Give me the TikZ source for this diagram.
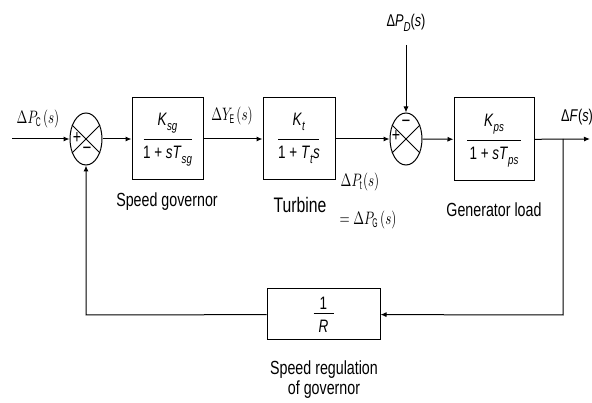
\documentclass[tikz,border=0pt]{standalone}
\usepackage{fontspec}
\setmainfont[FakeStretch=0.75]{Liberation Sans}
\usetikzlibrary{shapes.geometric,arrows.meta}
\newcommand{\iv}[1]{\textit{#1}}
\newcommand{\sbs}[1]{\raisebox{-0.5ex}{\fontsize{13}{13}\selectfont\textit{#1}}}
\newcommand{\mlab}[1]{\scalebox{1.3}[1.8]{\normalsize$#1$}}
\begin{document}
\begin{tikzpicture}[x=1pt,y=-1pt,
  every node/.style={font=\fontsize{19}{20}\selectfont, inner sep=0pt},
  blk/.style={draw, line width=1pt, minimum width=#1},
  sumj/.style={draw, ellipse, line width=1pt, minimum width=32pt, minimum height=52pt},
  ln/.style={line width=1pt},
  bar/.style={line width=1pt},
  num/.style={anchor=base, font=\fontsize{18}{18}\selectfont},
  arr/.style={ln, -{Latex[length=6pt,width=5pt]}}]
\useasboundingbox (0,0) rectangle (592,403);
% blocks
\node[blk=71pt, minimum height=82pt] (g) at (167.5,139) {};
\node[blk=72pt, minimum height=82pt] (t) at (299,139) {};
\node[blk=80pt, minimum height=83pt] (p) at (494,139.5) {};
\node[blk=113pt, minimum height=51pt] (r) at (323.5,314.5) {};
% fractions
\draw[bar] ([xshift=-24pt,yshift=-1pt]g.center) -- ([xshift=24pt,yshift=-1pt]g.center);
\node[num] (gn) at ([yshift=13pt]g.center) {\iv{K}\sbs{sg}};
\node[num] (gd) at ([yshift=-20pt]g.center) {1 + \iv{sT}\sbs{sg}};
\draw[bar] ([xshift=-21pt,yshift=-1pt]t.center) -- ([xshift=20pt,yshift=-1pt]t.center);
\node[num] (tn) at ([yshift=13pt]t.center) {\iv{K}\sbs{t}};
\node[num] (td) at ([yshift=-20pt]t.center) {1 + \iv{T}\sbs{t}\iv{s}};
\draw[bar] ([xshift=-27pt,yshift=-1pt]p.center) -- ([xshift=27pt,yshift=-1pt]p.center);
\node[num] (pn) at ([yshift=13pt]p.center) {\iv{K}\sbs{ps}};
\node[num] (pd) at ([yshift=-20pt]p.center) {1 + \iv{sT}\sbs{ps}};
\draw[bar] ([xshift=-10pt,yshift=0.5pt]r.center) -- ([xshift=10pt,yshift=0.5pt]r.center);
\node[num] (rn) at ([yshift=5pt]r.center) {1};
\node[num] (rd) at ([yshift=-18pt]r.center) {\iv{R}};
% summing junctions
\node[sumj] (s1) at (86,139) {};
\node[sumj] (s2) at (406,139) {};
\foreach \s in {s1,s2}{
  \draw[ln] (\s.45) -- (\s.225);
  \draw[ln] (\s.135) -- (\s.315);
}
\node (s1p) at ([xshift=-9pt,yshift=1pt]s1.center) {+};
\node (s1m) at ([xshift=1pt,yshift=-12pt]s1.center) {\fontsize{20}{20}\selectfont −};
\node (s2p) at ([xshift=-10pt,yshift=3pt]s2.center) {+};
\node (s2m) at ([yshift=15pt]s2.center) {\fontsize{20}{20}\selectfont −};
% coordinates
\coordinate (in) at (12,139);
\coordinate (dp) at (406,45);
\coordinate (out) at (590,139);
\coordinate (br) at (563,139);
\coordinate (brd) at (563,315);
\coordinate (fbl) at (86,315);
% connectors
\draw[arr] (in) -- (s1);
\draw[arr] (s1) -- (g);
\draw[arr] (g) -- (t);
\draw[arr] (t) -- (s2);
\draw[arr] (s2) -- (p);
\draw[arr] (p) -- (out);
\draw[arr] (dp) -- (s2);
\draw[arr] (br) -- (brd) -- (r);
\draw[arr] (r) -- (fbl) -- (s1);
% labels
\node (lpc) at (38,119) {\mlab{\Delta P_{\mathrm C}(s)}};
\node (lye) at (232,116) {\mlab{\Delta Y_{\mathrm E}(s)}};
\node (lpd) at (406,23) {\fontsize{17}{17}\selectfont Δ\iv{P}\sbs{D}(\iv{s})};
\node (lf) at (577,117) {\fontsize{17}{17}\selectfont Δ\iv{F}(\iv{s})};
\node (lpt) at (360,182) {\mlab{\Delta P_{\mathrm t}(s)}};
\node (lpg) at (368,220) {\mlab{=\Delta P_{\mathrm G}(s)}};
\node (lsg) at (167,202) {Speed governor};
\node (ltu) at (300,205) {\fontsize{21}{21}\selectfont Turbine};
\node (lgl) at (494,210) {Generator load};
\node[align=center] (lsr) at (324,380) {Speed regulation\\of governor};
\end{tikzpicture}
\end{document}
